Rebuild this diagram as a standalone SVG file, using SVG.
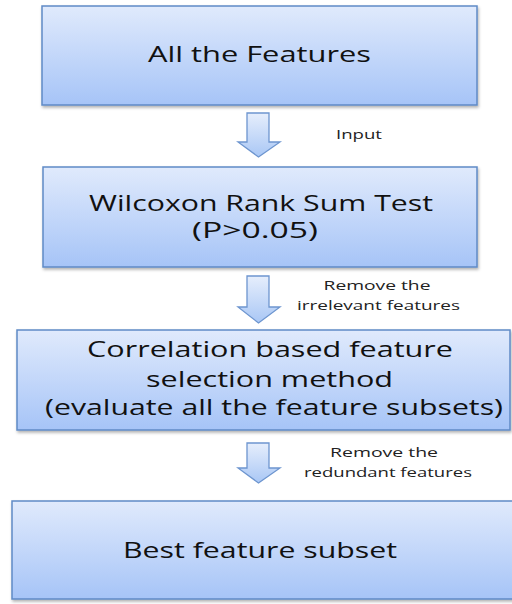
<svg xmlns="http://www.w3.org/2000/svg" width="512" height="604" viewBox="0 0 512 604">
  <defs>
    <linearGradient id="boxGrad" x1="0" y1="0" x2="0" y2="1">
      <stop offset="0" stop-color="#e0eafc"/>
      <stop offset="1" stop-color="#a6c4f7"/>
    </linearGradient>
    <linearGradient id="arrGrad" x1="0" y1="0" x2="0" y2="1">
      <stop offset="0" stop-color="#e6eefc"/>
      <stop offset="1" stop-color="#a9c7f5"/>
    </linearGradient>
    <filter id="shadow" x="-5%" y="-10%" width="110%" height="125%">
      <feDropShadow dx="1" dy="2" stdDeviation="1.5" flood-color="#000" flood-opacity="0.3"/>
    </filter>
  </defs>
  <style>
    .box { fill: url(#boxGrad); stroke: #5f8ac6; stroke-width: 1.5; filter: url(#shadow); }
    .arrow { fill: url(#arrGrad); stroke: #6d95cf; stroke-width: 1.3; stroke-linejoin: miter; }
    .t { font-family: "Open Sans", "DejaVu Sans", sans-serif; font-size: 21px; fill: #111; text-anchor: middle; }
    .lbl { font-family: "Open Sans", "DejaVu Sans", sans-serif; font-size: 13px; fill: #222; text-anchor: middle; }
  </style>
  <rect width="512" height="604" fill="#ffffff"/>

  <g id="connectors">
    <path class="arrow" d="M247,113 H269 V142 H280 L258.5,157 L238,142 H247 Z"/>
    <path class="arrow" d="M247,276 H269 V307 H280 L258.5,323 L238,307 H247 Z"/>
    <path class="arrow" d="M247,443 H269 V468 H280 L258.5,483 L238,468 H247 Z"/>
    <text class="lbl" x="359" y="139" textLength="46" lengthAdjust="spacingAndGlyphs">Input</text>
    <text class="lbl" x="377" y="290" textLength="107" lengthAdjust="spacingAndGlyphs">Remove the</text>
    <text class="lbl" x="378.5" y="310" textLength="163" lengthAdjust="spacingAndGlyphs">irrelevant features</text>
    <text class="lbl" x="384" y="457" textLength="108" lengthAdjust="spacingAndGlyphs">Remove the</text>
    <text class="lbl" x="388" y="477" textLength="168" lengthAdjust="spacingAndGlyphs">redundant features</text>
  </g>

  <g id="node-all-features">
    <rect class="box" x="42" y="6" width="435" height="99"/>
    <text class="t" x="259.5" y="62" textLength="223" lengthAdjust="spacingAndGlyphs">All the Features</text>
  </g>

  <g id="node-wilcoxon">
    <rect class="box" x="43" y="167" width="434" height="100"/>
    <text class="t" x="261" y="211" textLength="344" lengthAdjust="spacingAndGlyphs">Wilcoxon Rank Sum Test</text>
    <text class="t" x="255" y="238" textLength="126" lengthAdjust="spacingAndGlyphs">(P&gt;0.05)</text>
  </g>

  <g id="node-correlation">
    <rect class="box" x="17" y="330" width="493" height="100"/>
    <text class="t" x="270" y="357" textLength="366" lengthAdjust="spacingAndGlyphs">Correlation based feature</text>
    <text class="t" x="269.5" y="387" textLength="247" lengthAdjust="spacingAndGlyphs">selection method</text>
    <text class="t" x="274" y="415" textLength="458" lengthAdjust="spacingAndGlyphs">(evaluate all the feature subsets)</text>
  </g>

  <g id="node-best-subset">
    <rect class="box" x="12" y="501" width="502" height="98"/>
    <text class="t" x="260" y="558" textLength="274" lengthAdjust="spacingAndGlyphs">Best feature subset</text>
  </g>
</svg>
